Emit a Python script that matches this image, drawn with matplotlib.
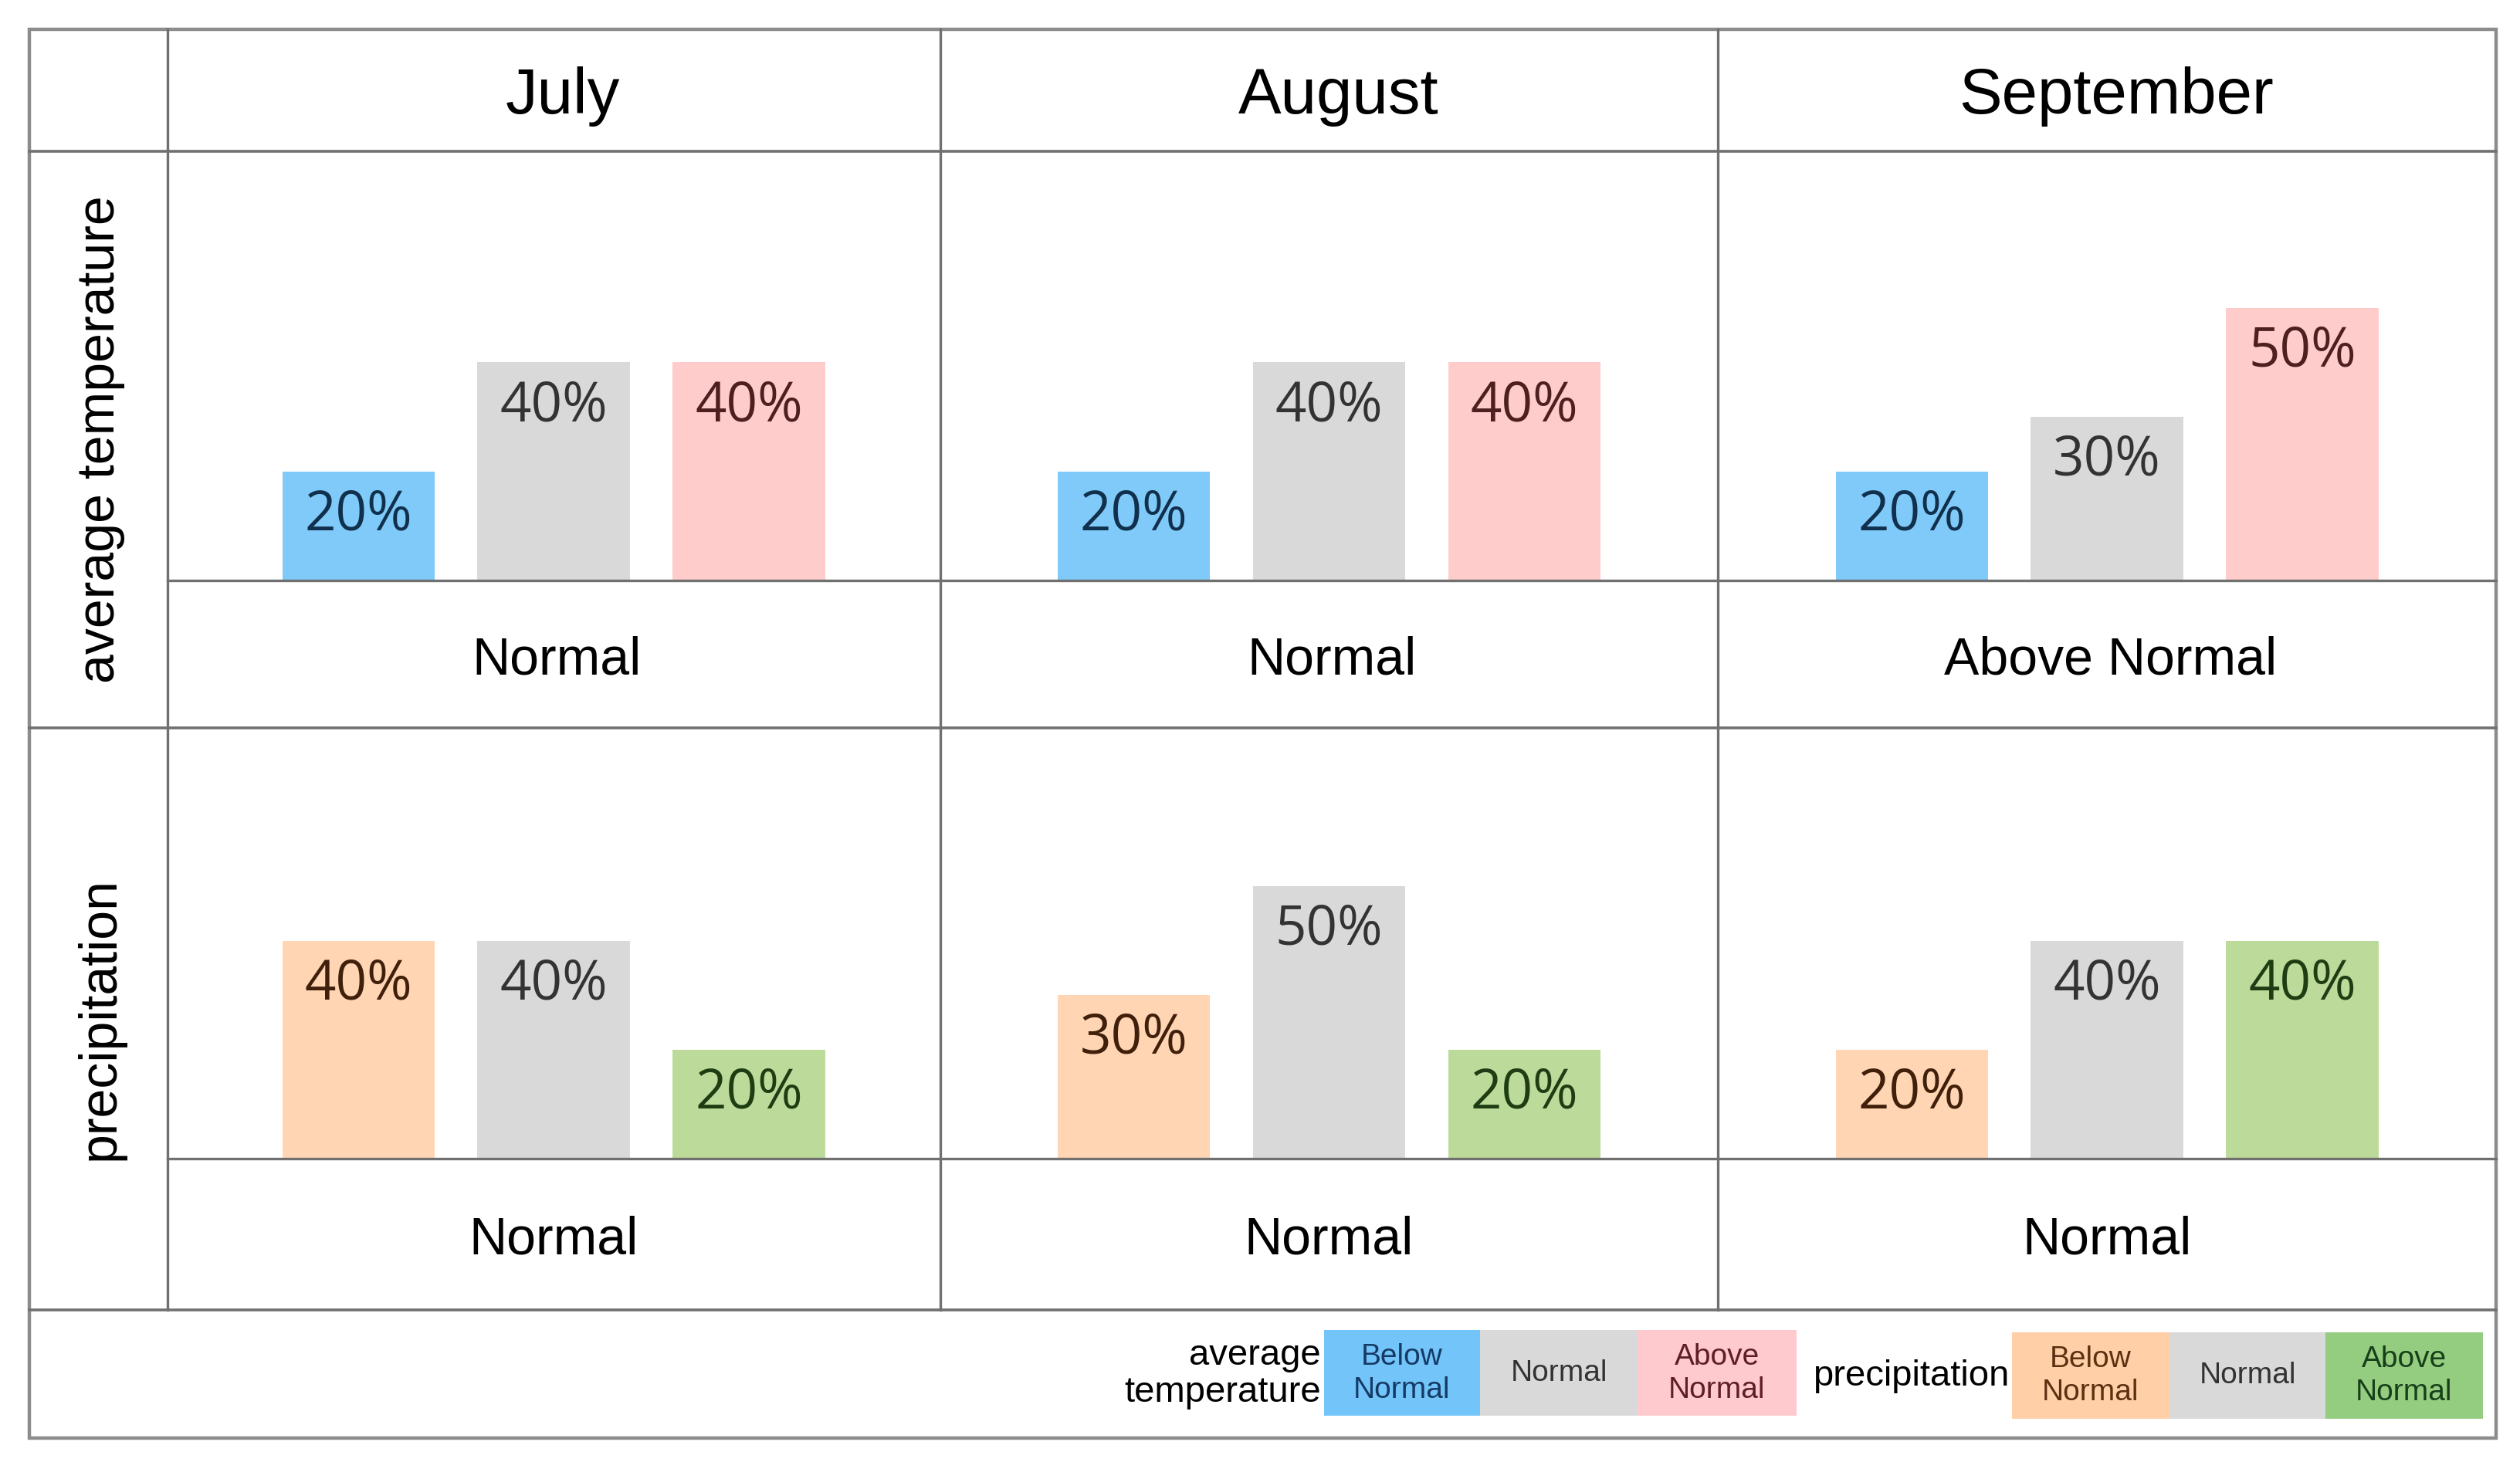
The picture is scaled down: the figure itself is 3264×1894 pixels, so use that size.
import matplotlib.pyplot as plt
from matplotlib.patches import Rectangle

# figure size in pixels (dpi 100)
W, H = 3264, 1894

# ---- data ----
months = ['July', 'August', 'September']
row_labels = ['average temperature', 'precipitation']
temp_values = [[20, 40, 40], [20, 40, 40], [20, 30, 50]]
precip_values = [[40, 40, 20], [30, 50, 20], [20, 40, 40]]
temp_outlook = ['Normal', 'Normal', 'Above Normal']
precip_outlook = ['Normal', 'Normal', 'Normal']
legend_cats = ['Below\nNormal', 'Normal', 'Above\nNormal']

# ---- colours ----
temp_colors = ['#7fcaf8', '#d9d9d9', '#ffcccc']
precip_colors = ['#ffd5b4', '#d9d9d9', '#bcdb9a']
temp_text = ['#10304d', '#333333', '#4d1f1f']
precip_text = ['#40200a', '#333333', '#1f3d12']
temp_leg = ['#72c4f9', '#d9d9d9', '#ffcacd']
precip_leg = ['#ffd0a8', '#d9d9d9', '#95cd80']
temp_leg_text = ['#163a66', '#333333', '#5e1f24']
precip_leg_text = ['#5c3010', '#333333', '#17401a']

line_col = '#707070'
title_font = 'Liberation Sans'
pct_font = 'Open Sans'
leg_font = ['Liberation Sans Narrow', 'Liberation Sans']

# table layout (pixels, y down)
x_left, x_right = 37.5, 3233
x_hdr = 216.5
col_edges = [x_hdr, 1217.7, 2225.2, x_right]
y_top, y_hdr = 37.5, 195.7
y_row2, y_leg, y_bot = 943, 1696.5, 1863
base_temp, base_prec = 751.5, 1500.8
px_per_pct = 7.05

fig = plt.figure(figsize=(W / 100, H / 100), dpi=100)
fig.patch.set_facecolor('white')


def draw_cell(j, values, colors, tcolors, top, base):
    x0, x1 = col_edges[j], col_edges[j + 1]
    ax = fig.add_axes([x0 / W, 1 - base / H, (x1 - x0) / W, (base - top) / H])
    ax.set_facecolor('none')
    ax.bar(range(3), values, width=0.78, color=colors)
    half = (x1 - x0) / 121.5 / 2.0816 / 2
    ax.set_xlim(1 - half, 1 + half)
    ax.set_ylim(0, (base - top) / px_per_pct)
    ax.axis('off')
    for i, v in enumerate(values):
        ax.annotate(f'{v}%', xy=(i, v), xytext=(0, -41), textcoords='offset points',
                    ha='center', va='center', fontsize=51, family=pct_font, color=tcolors[i])


for j in range(3):
    draw_cell(j, temp_values[j], temp_colors, temp_text, y_hdr, base_temp)
    draw_cell(j, precip_values[j], precip_colors, precip_text, y_row2, base_prec)

# overlay for grid lines and text
ov = fig.add_axes([0, 0, 1, 1], facecolor='none')
ov.set_xlim(0, W)
ov.set_ylim(H, 0)
ov.axis('off')

ov.add_patch(Rectangle((x_left, y_top), x_right - x_left, y_bot - y_top,
                       fill=False, ec='#8c8c8c', lw=3.2))
for y in [y_hdr, y_row2, y_leg]:
    ov.plot([x_left, x_right], [y, y], color=line_col, lw=2.6)
for y in [base_temp, base_prec]:
    ov.plot([x_hdr, x_right], [y, y], color=line_col, lw=2.4)
for x in col_edges[:-1]:
    ov.plot([x, x], [y_top, y_leg], color=line_col, lw=2.4)

# month headers and outlook labels
for j, m in enumerate(months):
    cx = (col_edges[j] + col_edges[j + 1]) / 2
    ov.text(cx + 12, (y_top + y_hdr) / 2 + 8, m, ha='center', va='center', fontsize=60,
            family=title_font)
    ov.text(cx + 4, (base_temp + y_row2) / 2 + 8, temp_outlook[j], ha='center', va='center',
            fontsize=49, family=title_font)
    ov.text(cx, (base_prec + y_leg) / 2 + 8, precip_outlook[j], ha='center', va='center',
            fontsize=49, family=title_font)

# row labels
hx = (x_left + x_hdr) / 2 + 3
ov.text(hx, (y_hdr + y_row2) / 2, row_labels[0], rotation=90, ha='center', va='center',
        fontsize=49, family=title_font)
ov.text(hx, (y_row2 + y_leg) / 2, row_labels[1], rotation=90, ha='center', va='center',
        fontsize=49, family=title_font)

# legend
ov.text(1711, 1780, 'average\ntemperature', ha='right', va='center', fontsize=34,
        family=leg_font, linespacing=1.1)
ov.text(2602, 1783, 'precipitation', ha='right', va='center', fontsize=34, family=leg_font)

temp_box_x = [1715, 1917, 2121, 2327]
prec_box_x = [2606, 2810, 3012, 3216]
for k in range(3):
    ov.add_patch(Rectangle((temp_box_x[k], 1723), temp_box_x[k + 1] - temp_box_x[k], 111,
                           color=temp_leg[k], lw=0))
    ov.text((temp_box_x[k] + temp_box_x[k + 1]) / 2, 1779, legend_cats[k], ha='center',
            va='center', fontsize=28, family=leg_font, color=temp_leg_text[k], linespacing=1.25)
    ov.add_patch(Rectangle((prec_box_x[k], 1726), prec_box_x[k + 1] - prec_box_x[k], 112,
                           color=precip_leg[k], lw=0))
    ov.text((prec_box_x[k] + prec_box_x[k + 1]) / 2, 1782, legend_cats[k], ha='center',
            va='center', fontsize=28, family=leg_font, color=precip_leg_text[k], linespacing=1.25)

fig.savefig('out.png', dpi=100)
